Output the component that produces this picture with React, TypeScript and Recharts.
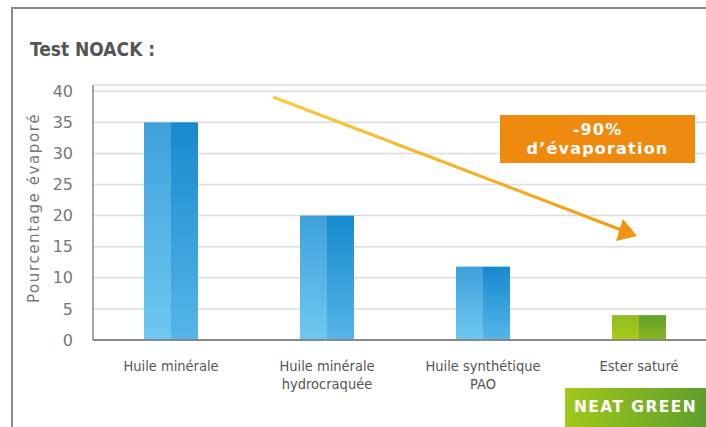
import { BarChart, Bar, XAxis, YAxis, CartesianGrid } from 'recharts';

const categories = [
  'Huile minérale',
  'Huile minérale\nhydrocraquée',
  'Huile synthétique\nPAO',
  'Ester saturé',
];
const evaporated = [35, 20, 11.8, 4];
const yTicks = [0, 5, 10, 15, 20, 25, 30, 35, 40];

const barTheme = ['blue', 'blue', 'blue', 'green'];

const palettes: Record<string, { l: [string, string]; r: [string, string] }> = {
  blue: { l: ['#3fa0dc', '#6ec8f0'], r: ['#168acd', '#56b5e8'] },
  green: { l: ['#8fbd22', '#aacb16'], r: ['#62a02c', '#8bb722'] },
};

const chartData = categories.map((name, i) => ({ name, value: evaporated[i] }));

const BarShape = (props: any) => {
  const { x, y, width, height, index } = props;
  const p = palettes[barTheme[index]];
  const half = width / 2;
  return (
    <g>
      <defs>
        <linearGradient id={`gl${index}`} x1="0" y1="0" x2="0" y2="1">
          <stop offset="0%" stopColor={p.l[0]} />
          <stop offset="100%" stopColor={p.l[1]} />
        </linearGradient>
        <linearGradient id={`gr${index}`} x1="0" y1="0" x2="0" y2="1">
          <stop offset="0%" stopColor={p.r[0]} />
          <stop offset="100%" stopColor={p.r[1]} />
        </linearGradient>
      </defs>
      <rect x={x} y={y} width={half} height={height} fill={`url(#gl${index})`} />
      <rect x={x + half} y={y} width={half} height={height} fill={`url(#gr${index})`} />
    </g>
  );
};

const CategoryTick = (props: any) => {
  const { x, y, payload } = props;
  const lines = String(payload.value).split('\n');
  return (
    <text
      x={x}
      y={y}
      textAnchor="middle"
      fill="#555"
      fontSize={14.5}
      fontFamily="'DejaVu Sans Condensed', sans-serif"
    >
      {lines.map((l, i) => (
        <tspan key={i} x={x} dy={i === 0 ? 23 : 18}>
          {l}
        </tspan>
      ))}
    </text>
  );
};

export default function App() {
  return (
    <div
      style={{
        position: 'fixed',
        left: 0,
        top: 0,
        width: 706,
        height: 427,
        overflow: 'hidden',
        background: '#fff',
      }}
    >
      {/* frame */}
      <div style={{ position: 'absolute', left: 11, top: 7, width: 700, height: 2, background: '#8a8a8a' }} />
      <div style={{ position: 'absolute', left: 11, top: 7, width: 2, height: 430, background: '#8a8a8a' }} />

      <div
        style={{
          position: 'absolute',
          left: 30,
          top: 38,
          fontSize: 19,
          fontWeight: 'bold',
          color: '#555',
          fontFamily: "'DejaVu Sans Condensed', sans-serif",
        }}
      >
        Test NOACK :
      </div>

      <div
        style={{
          position: 'absolute',
          left: 34,
          top: 208,
          transform: 'translate(-50%, -50%) rotate(-90deg)',
          whiteSpace: 'nowrap',
          fontSize: 15,
          letterSpacing: 1.6,
          color: '#777',
          fontFamily: "'DejaVu Sans', sans-serif",
        }}
      >
        Pourcentage évaporé
      </div>

      <div style={{ position: 'absolute', left: 0, top: 0 }}>
        <BarChart
          width={730}
          height={427}
          data={chartData}
          margin={{ top: 85, right: 13, bottom: 0, left: 0 }}
          barSize={54}
        >
          <CartesianGrid vertical={false} stroke="#dcdcdc" strokeWidth={1.5} />
          <XAxis
            dataKey="name"
            height={87}
            tick={<CategoryTick />}
            tickLine={false}
            axisLine={{ stroke: '#888', strokeWidth: 2 }}
            interval={0}
          />
          <YAxis
            width={93}
            domain={[0, 41]}
            ticks={yTicks}
            allowDataOverflow
            tickLine={false}
            tickSize={0}
            tickMargin={20}
            axisLine={{ stroke: '#888', strokeWidth: 1.5 }}
            tick={{ fill: '#777', fontSize: 16, fontFamily: "'DejaVu Sans', sans-serif" }}
          />
          <Bar dataKey="value" shape={<BarShape />} isAnimationActive={false} />
        </BarChart>
      </div>

      {/* arrow annotation */}
      <svg width={706} height={427} style={{ position: 'absolute', left: 0, top: 0, pointerEvents: 'none' }}>
        <defs>
          <linearGradient id="arrowGrad" gradientUnits="userSpaceOnUse" x1="273" y1="97" x2="637" y2="236">
            <stop offset="0%" stopColor="#fdc93a" />
            <stop offset="100%" stopColor="#f29a10" />
          </linearGradient>
        </defs>
        <line x1={273} y1={97} x2={624} y2={231} stroke="url(#arrowGrad)" strokeWidth={3} />
        <polygon points="637,236 616,241 623,219" fill="#f29410" />
      </svg>

      <div
        style={{
          position: 'absolute',
          left: 500,
          top: 115,
          width: 195,
          height: 48,
          background: '#f08a0f',
          color: '#fff',
          fontWeight: 'bold',
          fontSize: 16,
          lineHeight: '19px',
          letterSpacing: 1.2,
          textAlign: 'center',
          paddingTop: 5,
          boxSizing: 'border-box',
          fontFamily: "'DejaVu Sans', sans-serif",
        }}
      >
        <div>-90%</div>
        <div>d’évaporation</div>
      </div>

      <div
        style={{
          position: 'absolute',
          left: 565,
          top: 388,
          width: 141,
          height: 39,
          background: 'linear-gradient(90deg, #a2c81a, #5e9e2c)',
          color: '#fff',
          fontWeight: 'bold',
          fontSize: 15.5,
          lineHeight: '39px',
          paddingLeft: 9,
          letterSpacing: 1.4,
          boxSizing: 'border-box',
          whiteSpace: 'nowrap',
          fontFamily: "'DejaVu Sans', sans-serif",
        }}
      >
        NEAT GREEN
      </div>
    </div>
  );
}
